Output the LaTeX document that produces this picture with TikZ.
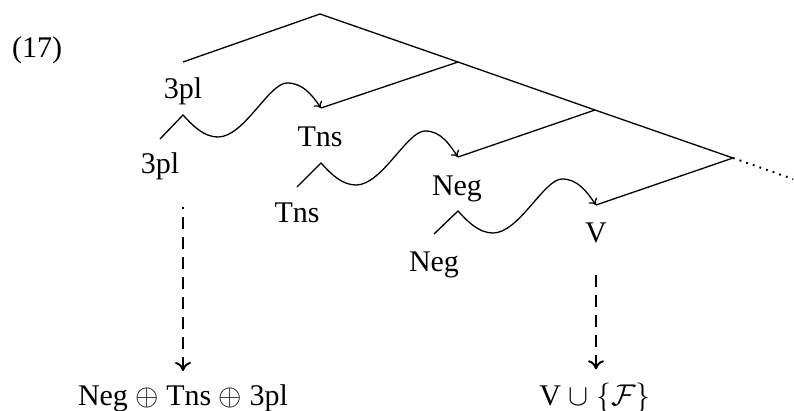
\RequirePackage{fix-cm}
\documentclass[tikz,border=0pt]{standalone}
\usepackage{fontspec}
\setmainfont{Liberation Serif}
\usetikzlibrary{arrows.meta}
\begin{document}
\begin{tikzpicture}[x=1pt,y=-1pt,
  lbl/.style={font=\fontsize{30}{36}\selectfont, inner sep=0pt, anchor=base},
  branch/.style={line width=1.3pt, line join=miter},
  wave/.style={line width=1.3pt, -{To[length=6pt,width=10pt]}},
  derive/.style={line width=1.9pt, dash pattern=on 12pt off 8pt, {To[length=9pt,width=16pt,line width=1.9pt]}-},
  cont/.style={line width=2pt, dash pattern=on 1.8pt off 5.2pt}]
\useasboundingbox (0,0) rectangle (794,410);
% tree positions
\coordinate (A) at (320,14);
\coordinate (l1) at (183,62);
\coordinate (B) at (458,62);
\coordinate (l2) at (321,108);
\coordinate (C) at (595,110);
\coordinate (l3) at (458,157);
\coordinate (D) at (733,158);
\coordinate (l4) at (596,205);
\coordinate (E) at (793,179);
% labels
\node[lbl, anchor=base west] (ex) at (12,57) {(17)};
\node[lbl] (pl1) at (183,98) {3pl};
\node[lbl] (pl0) at (160,173) {3pl};
\node[lbl] (tns1) at (320,146) {Tns};
\node[lbl] (tns0) at (297,222) {Tns};
\node[lbl] (neg1) at (457,195) {Neg};
\node[lbl] (neg0) at (434,271) {Neg};
\node[lbl] (v) at (596,242) {V};
\node[lbl] (res1) at (183,405) {Neg $\oplus$ Tns $\oplus$ 3pl};
\node[lbl] (res2) at (595,405) {V $\cup$ $\{\mathcal{F}\}$};
% tree
\draw[branch] (l1) -- (A) -- (B) -- (C) -- (D);
\draw[branch] (B) -- (l2);
\draw[branch] (C) -- (l3);
\draw[branch] (D) -- (l4);
\draw[cont] (D) -- (E);
% movement paths
\coordinate (s1) at (160,139); \coordinate (p1) at (183,115);
\coordinate (s2) at (297,187); \coordinate (p2) at (321,163);
\coordinate (s3) at (434,234); \coordinate (p3) at (458,211);
\foreach \s/\p/\e in {s1/p1/l2, s2/p2/l3, s3/p3/l4}{
  \draw[wave] (\s) -- (\p)
    .. controls +(10,11) and +(-14,0) .. ++(35,22)
    .. controls +(26,0) and +(-18,0) .. ++(69,-54)
    .. controls +(16,0) and +(-9,-13) .. (\e);
}
% derivations (drawn from the tip so the dash pattern meets the arrowhead)
\coordinate (d1) at (183,207);
\coordinate (d2) at (596,273);
\draw[derive] ([yshift=13pt]d1 |- res1.north) -- (d1);
\draw[derive] ([yshift=13pt]d2 |- res2.north) -- (d2);
\end{tikzpicture}
\end{document}
